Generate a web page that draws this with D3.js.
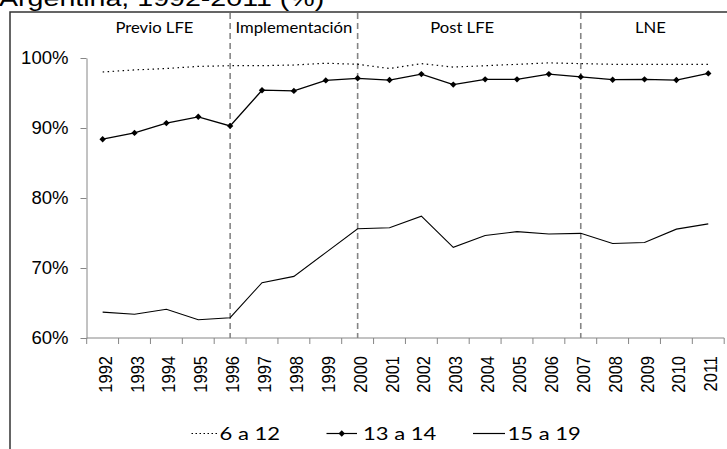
<!DOCTYPE html>
<html>
<head>
<meta charset="utf-8">
<script src="https://cdn.jsdelivr.net/npm/d3@7"></script>
<style>
  html, body { margin: 0; padding: 0; background: #fff; }
  svg { display: block; }
</style>
</head>
<body>
<div id="chart"></div>
<script>
// Tasa de escolarizacion por grupo de edad, Argentina 1992-2011

const years = ["1992","1993","1994","1995","1996","1997","1998","1999","2000","2001",
  "2002","2003","2004","2005","2006","2007","2008","2009","2010","2011"];

const age6to12 = [98.0, 98.3, 98.5, 98.8, 98.9, 98.9, 99.0, 99.25, 99.1, 98.5,
  99.2, 98.7, 98.9, 99.1, 99.3, 99.2, 99.1, 99.1, 99.1, 99.1];
const age13to14 = [88.4, 89.3, 90.7, 91.6, 90.3, 95.4, 95.3, 96.8, 97.1, 96.85,
  97.7, 96.2, 96.95, 96.95, 97.7, 97.3, 96.9, 96.95, 96.85, 97.8];
const age15to19 = [63.7, 63.4, 64.1, 62.6, 62.9, 67.9, 68.8, 72.2, 75.6, 75.75,
  77.4, 72.95, 74.65, 75.2, 74.85, 74.95, 73.5, 73.65, 75.55, 76.3];

const seriesNames = ["6 a 12", "13 a 14", "15 a 19"];
const periodBreaks = ["1996", "2000", "2007"];
const periodLabels = ["Previo LFE", "Implementación", "Post LFE", "LNE"];
const yTicks = [60, 70, 80, 90, 100];
const titleText = "Argentina, 1992-2011 (%)";

const W = 727, H = 449;
const svg = d3.select("#chart").append("svg").attr("width", W).attr("height", H);

// the original picture is stretched sideways
const sx = 1.3;

const x = d3.scaleBand().domain(years).range([86.7, 724.2]);
const cx = d => x(d) + x.bandwidth() / 2;
const y = d3.scaleLinear().domain([60, 100]).range([338, 58]);

// title, cut off at the top like the source
svg.append("text")
  .attr("transform", "translate(-1,6) scale(" + sx + ",1)")
  .attr("font-family", "Liberation Sans, Arial, sans-serif")
  .attr("font-size", 22)
  .attr("fill", "#000")
  .text(titleText);

// chart area frame
svg.append("rect")
  .attr("x", 10).attr("y", 12).attr("width", 800).attr("height", 500)
  .attr("fill", "none").attr("stroke", "#333").attr("stroke-width", 1.5);

// period separators
svg.append("g").selectAll("line").data(periodBreaks).join("line")
  .attr("x1", d => cx(d)).attr("x2", d => cx(d))
  .attr("y1", 13).attr("y2", y(60))
  .attr("stroke", "#858585").attr("stroke-width", 1.6)
  .attr("stroke-dasharray", "6,4");

// period labels
const edges = [x.range()[0], ...periodBreaks.map(cx), x.range()[1]];
const labelShift = [-4, 0, -7, -2];
svg.append("g").selectAll("text").data(periodLabels).join("text")
  .attr("transform", (d, i) => "translate(" + ((edges[i] + edges[i + 1]) / 2 + labelShift[i]) + ",33.3) scale(1.15,1)")
  .attr("text-anchor", "middle")
  .attr("font-family", "Lato, sans-serif")
  .attr("font-size", 14.5)
  .attr("fill", "#000")
  .text(d => d);

// y axis
const yAxis = svg.append("g")
  .attr("transform", "translate(86.5,0)")
  .call(d3.axisLeft(y).tickValues(yTicks).tickSize(6).tickSizeOuter(0).tickPadding(11).tickFormat(d => d + "%"));
yAxis.select(".domain").attr("stroke", "#868686");
yAxis.selectAll(".tick line").attr("stroke", "#868686");
yAxis.selectAll(".tick text")
  .attr("font-family", "Liberation Sans, Arial, sans-serif")
  .attr("font-size", 17.5)
  .attr("fill", "#000")
  .attr("transform", "scale(1.06,1)")
  .attr("dy", "0.34em");

// x axis line and ticks at category edges
const xg = svg.append("g");
xg.append("line")
  .attr("x1", x.range()[0]).attr("x2", x.range()[1])
  .attr("y1", y(60)).attr("y2", y(60))
  .attr("stroke", "#868686");
xg.selectAll("line.tk").data([...years.map(d => x(d)), x.range()[1]]).join("line")
  .attr("class", "tk")
  .attr("x1", d => d).attr("x2", d => d)
  .attr("y1", y(60)).attr("y2", y(60) + 6)
  .attr("stroke", "#868686");
xg.selectAll("text").data(years).join("text")
  .attr("transform", d => "translate(" + (cx(d) + 9) + ",356) scale(1.15,1) rotate(-90)")
  .attr("text-anchor", "end")
  .attr("font-family", "Liberation Sans, Arial, sans-serif")
  .attr("font-size", 16.5)
  .attr("fill", "#000")
  .text(d => d);

// series
const line = d3.line().x((d, i) => cx(years[i])).y(d => y(d));

svg.append("path").datum(age6to12)
  .attr("d", line).attr("fill", "none")
  .attr("stroke", "#000").attr("stroke-width", 1.2)
  .attr("stroke-dasharray", "1.5,3.5");

svg.append("path").datum(age15to19)
  .attr("d", line).attr("fill", "none")
  .attr("stroke", "#000").attr("stroke-width", 1.1);

svg.append("path").datum(age13to14)
  .attr("d", line).attr("fill", "none")
  .attr("stroke", "#000").attr("stroke-width", 1.3);

const diamond = d3.symbol().type(d3.symbolDiamond2).size(26);
svg.append("g").selectAll("path").data(age13to14).join("path")
  .attr("transform", (d, i) => "translate(" + cx(years[i]) + "," + y(d) + ")")
  .attr("d", diamond)
  .attr("fill", "#000");

// legend
const legendY = 433.5;
const legend = [
  {name: seriesNames[0], x0: 191.5, x1: 218, tx: 219.5, dash: "1.5,2.5", marker: false},
  {name: seriesNames[1], x0: 326.5, x1: 357, tx: 363, dash: null, marker: true},
  {name: seriesNames[2], x0: 473, x1: 505, tx: 507.5, dash: null, marker: false}
];
const lg = svg.append("g").selectAll("g").data(legend).join("g");
lg.append("line")
  .attr("x1", d => d.x0).attr("x2", d => d.x1)
  .attr("y1", legendY).attr("y2", legendY)
  .attr("stroke", "#000").attr("stroke-width", 1.2)
  .attr("stroke-dasharray", d => d.dash);
lg.filter(d => d.marker).append("path")
  .attr("transform", d => "translate(" + (d.x0 + d.x1) / 2 + "," + legendY + ")")
  .attr("d", diamond).attr("fill", "#000");
lg.append("text")
  .attr("transform", d => "translate(" + d.tx + ",440) scale(1.35,1)")
  .attr("font-family", "Lato, sans-serif")
  .attr("font-size", 16.3)
  .attr("fill", "#000")
  .text(d => d.name);
</script>
</body>
</html>
